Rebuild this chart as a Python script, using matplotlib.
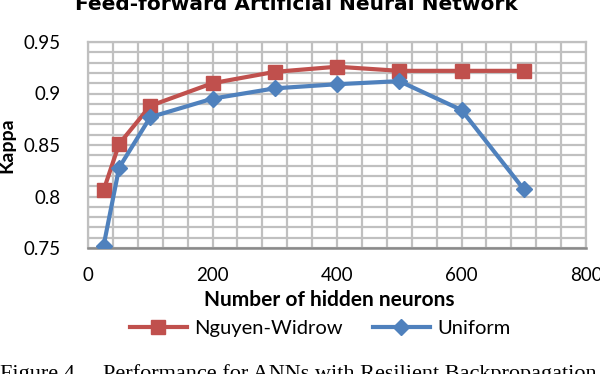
import matplotlib
matplotlib.use("Agg")
import matplotlib.pyplot as plt
from matplotlib.ticker import MultipleLocator

# data
neurons = [25, 50, 100, 200, 300, 400, 500, 600, 700]
nguyen_widrow = [0.806, 0.851, 0.888, 0.910, 0.921, 0.926, 0.922, 0.922, 0.922]
uniform = [0.752, 0.828, 0.877, 0.895, 0.905, 0.909, 0.912, 0.884, 0.807]

yticks = [0.75, 0.8, 0.85, 0.9, 0.95]
ytick_labels = ["0.75", "0.8", "0.85", "0.9", "0.95"]
xticks = [0, 200, 400, 600, 800]

plt.rcParams['font.family'] = ['Lato', 'DejaVu Sans']

fig = plt.figure(figsize=(6, 3.74), dpi=100)
ax = fig.add_axes([88/600, 1-248/374, (586-88)/600, (248-42)/374])

red = '#C0504D'
blue = '#4F81BD'

ax.plot(neurons, nguyen_widrow, color=red, lw=3, marker='s', ms=10,
        label='Nguyen-Widrow', zorder=3)
ax.plot(neurons, uniform, color=blue, lw=3, marker='D', ms=8,
        label='Uniform', zorder=4)

ax.set_xlim(0, 800)
ax.set_ylim(0.75, 0.95)
ax.set_xticks(xticks)
ax.set_yticks(yticks)
ax.set_yticklabels(ytick_labels)
ax.xaxis.set_minor_locator(MultipleLocator(40))
ax.yaxis.set_minor_locator(MultipleLocator(0.01))
ax.grid(True, which='both', color='#c0c0c0', lw=1.6)
ax.set_axisbelow(True)
ax.tick_params(which='both', length=0, labelsize=13.5, colors='black')
ax.tick_params(axis='y', pad=20)
ax.tick_params(axis='x', pad=14)

for s in ['top', 'right', 'left']:
    ax.spines[s].set_color('#c0c0c0')
    ax.spines[s].set_linewidth(1.6)
ax.spines['bottom'].set_color('#8a8a8a')
ax.spines['bottom'].set_linewidth(1.8)

ax.set_ylabel('Kappa', fontsize=14, fontweight='bold')
ax.yaxis.set_label_coords(-0.146, 0.5)

fig.text(329/600, 1-300/374, 'Number of hidden neurons', fontsize=15,
         fontweight='bold', ha='center', va='center')
fig.text(296/600, 1-10/374, 'Feed-forward Artificial Neural Network',
         fontsize=14.5, fontweight='bold', family='DejaVu Sans',
         ha='center', va='baseline')

fig.legend(loc='center', bbox_to_anchor=(320/600, 1-328/374), ncol=2,
           frameon=False, fontsize=14.5, handlelength=2.85, columnspacing=1.5,
           handletextpad=0.35, borderpad=0.2)

fig.text(0.0, 1-364/374, 'Figure 4.    Performance for ANNs with Resilient Backpropagation',
         fontsize=16, family='Liberation Serif', ha='left', va='top')

fig.savefig('out.png', dpi=100)
